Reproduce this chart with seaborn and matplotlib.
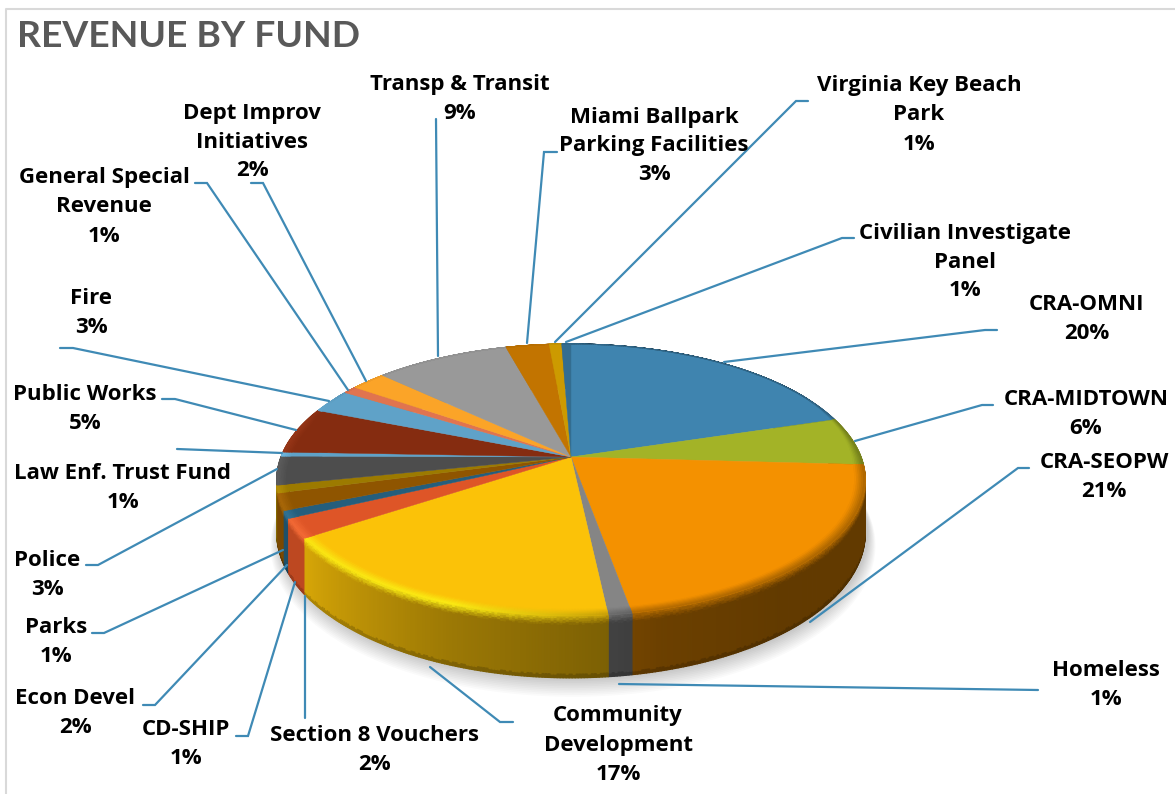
import numpy as np
import pandas as pd
import matplotlib
matplotlib.use("Agg")
import matplotlib.pyplot as plt
import seaborn as sns
from matplotlib.collections import PolyCollection
from matplotlib.colors import to_rgb

# fund names in slice order, clockwise from the top
funds = ["CRA-OMNI", "CRA-MIDTOWN", "CRA-SEOPW", "Homeless", "Community\nDevelopment",
         "Section 8 Vouchers", "CD-SHIP", "Econ Devel", "Parks", "Police",
         "Law Enf. Trust Fund", "Public Works", "Fire", "General Special\nRevenue",
         "Dept Improv\nInitiatives", "Transp & Transit", "Miami Ballpark\nParking Facilities",
         "Virginia Key Beach\nPark", "Civilian Investigate\nPanel"]
# slice sizes measured on the picture
shares = [20.2, 5.7, 21.3, 1.1, 17.3, 2.3, 0.9, 2.0, 0.9, 3.4,
          0.5, 5.5, 2.8, 0.9, 2.3, 8.7, 2.8, 0.8, 0.6]
# percentages as printed on the labels
printed = [20, 6, 21, 1, 17, 2, 1, 2, 1, 3, 1, 5, 3, 1, 2, 9, 3, 1, 1]
colors = ["#3f84af", "#a3b327", "#f49100", "#858585", "#fbc208", "#de5527", "#255e7c",
          "#8f5500", "#9c7a00", "#4d4d4d", "#5fa2c8", "#852c10", "#5fa2c8", "#e0744f",
          "#fba428", "#999999", "#c27400", "#cc9a00", "#336d90"]

df = pd.DataFrame({"fund": funds, "share": shares, "printed": printed, "color": colors})

# label centres in pixels
label_x = [1087, 1086, 1104, 1106, 618, 374, 186, 75, 56, 47, 123, 85, 91, 104, 252, 460, 654, 919, 965]
label_y = [319, 414, 477, 685, 745, 750, 744, 713, 642, 575, 488, 409, 313, 207, 142, 99, 146, 115, 262]

leaders = [
    [(997, 330), (985, 330), (724, 362)],
    [(993, 405), (982, 405), (855, 441)],
    [(1029, 468), (1018, 468), (810, 622)],
    [(1038, 690), (619, 684)],
    [(513, 722), (500, 722), (430, 667)],
    [(305, 718), (305, 596)],
    [(236, 736), (248, 736), (295, 582)],
    [(143, 705), (155, 705), (287, 565)],
    [(92, 633), (104, 633), (283, 550)],
    [(86, 565), (98, 565), (277, 469)],
    [(177, 449), (282, 453)],
    [(162, 399), (175, 399), (296, 430)],
    [(60, 348), (73, 348), (329, 401)],
    [(195, 183), (207, 183), (348, 390)],
    [(251, 183), (263, 183), (366, 381)],
    [(436, 119), (438, 356)],
    [(557, 152), (544, 152), (527, 343)],
    [(808, 101), (796, 101), (555, 342)],
    [(854, 238), (842, 238), (566, 342)],
]

# perspective of the pie
cx, cy = 571, 457
rx, ry = 290, 132
persp = 0.169
depth = 51.5
bevel = 7


def project(theta, r=1.0, z=0.0):
    # theta in degrees, clockwise from the top
    t = np.radians(theta)
    xx = r * np.sin(t)
    yy = r * np.cos(t)
    w = 1 + persp * yy
    return np.column_stack([cx + rx * xx / w, cy - ry * yy / w + z / w])


def wall_shade(theta):
    return np.interp(theta, [60, 140, 165, 175, 200, 235, 250, 285, 360],
                     [0.40, 0.40, 0.44, 0.50, 0.62, 0.85, 0.85, 0.9, 0.9])


def highlight(theta):
    return np.interp(theta, [170, 200, 235, 285, 300], [0, 0.9, 0.8, 0.5, 0])


def rim_width(theta):
    return np.interp(theta, [60, 95, 285, 300], [0, 1, 1, 0])


sns.set_theme(style="white")
plt.rcParams["font.family"] = ["Open Sans", "DejaVu Sans"]

fig, ax = plt.subplots(figsize=(11.75, 7.94), dpi=100)
fig.subplots_adjust(left=0, right=1, top=1, bottom=0)
ax.set_xlim(0, 1175)
ax.set_ylim(794, 0)
ax.axis("off")

# chart frame, only top and left show up
ax.plot([6, 6, 1175], [794, 9, 9], color="#d9d9d9", lw=1.5, zorder=1)

edges = np.concatenate([[0], np.cumsum(df["share"].values) / df["share"].sum() * 360])

# soft shadow below the pie
round_t = np.linspace(0, 360, 361)
for i in range(1, 12):
    ax.fill(*project(round_t, 1 + i * 0.0025, depth + i).T + np.array([[2], [0]]),
            color="black", alpha=0.018, lw=0, zorder=1.5)

wall_polys, wall_cols, wall_key = [], [], []
rim_polys, rim_cols = [], []

for i, row in df.iterrows():
    base = np.array(to_rgb(row["color"]))
    a0, a1 = edges[i], edges[i + 1]
    steps = max(2, int(np.ceil(a1 - a0)) * 2)
    ts = np.linspace(a0, a1, steps + 1)

    # flat top of the slice
    top = np.vstack([[cx, cy], project(ts)])
    ax.fill(top[:, 0], top[:, 1], color=row["color"], lw=0.3, zorder=3)

    for t0, t1 in zip(ts[:-1], ts[1:]):
        mid = (t0 + t1) / 2
        wall = base * wall_shade(mid)
        bright = np.clip(base * 1.2 + 0.05, 0, 1)
        h = highlight(mid)
        edge_col = h * bright + (1 - h) * (base + wall) / 2
        # rim on the top face, going outwards
        rw = rim_width(mid)
        rr = np.linspace(1 - 0.035 * rw, 1, 7)
        for k in range(6):
            f = (k + 0.5) / 6
            poly = np.vstack([project([t0, t1], rr[k]), project([t1, t0], rr[k + 1])])
            rim_polys.append(poly)
            rim_cols.append(base * (1 - f) + edge_col * f)
        # wall, top to bottom
        zz = list(np.linspace(0, bevel * max(rw, 0.01), 6)) + [depth - 3, depth]
        for k in range(len(zz) - 1):
            if k < 5:
                f = (k + 0.5) / 5
                col = edge_col * (1 - f) + wall * f
            elif k == 5:
                col = wall
            else:
                col = wall * 0.82
            poly = np.vstack([project([t0, t1], 1, zz[k]), project([t1, t0], 1, zz[k + 1])])
            wall_polys.append(poly)
            wall_cols.append(col)
            wall_key.append(np.cos(np.radians(mid)))

order = np.argsort(wall_key)[::-1]
ax.add_collection(PolyCollection([wall_polys[j] for j in order],
                                 facecolors=[wall_cols[j] for j in order],
                                 edgecolors="face", linewidths=0.9, zorder=2))
ax.add_collection(PolyCollection(rim_polys, facecolors=rim_cols,
                                 edgecolors="face", linewidths=0.5, zorder=4))

# leader lines
for pts in leaders:
    xs, ys = zip(*pts)
    ax.plot(xs, ys, color="#3f8ab5", lw=1.6, zorder=5, solid_joinstyle="miter")

# labels
for i, row in df.iterrows():
    ax.text(label_x[i], label_y[i], f"{row['fund']}\n{row['printed']}%", ha="center", va="center",
            fontsize=16, fontweight="bold", color="black", linespacing=1.5, zorder=6)

ax.text(17, 36.5, "REVENUE BY FUND", ha="left", va="center", fontsize=26.8, family="Lato",
        fontweight="bold", color="#595959", zorder=6)

fig.savefig("out.png", dpi=100)
